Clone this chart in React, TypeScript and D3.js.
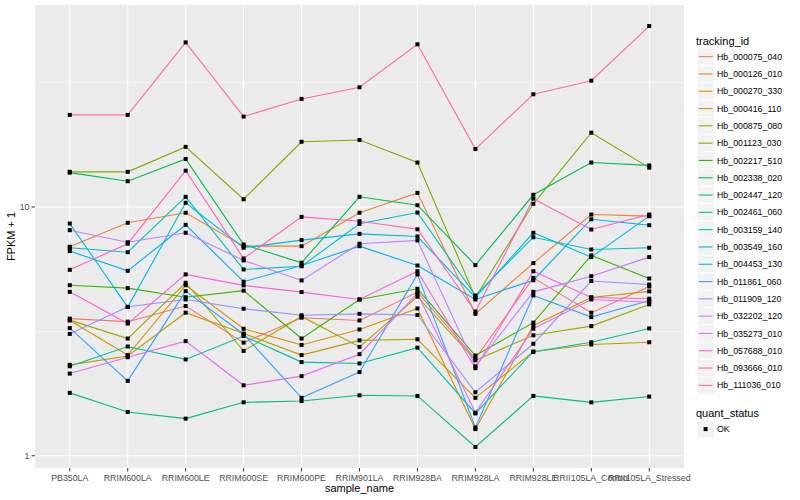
import * as d3 from "d3";

const sampleNames = [
  "PB350LA", "RRIM600LA", "RRIM600LE", "RRIM600SE", "RRIM600PE", "RRIM901LA",
  "RRIM928BA", "RRIM928LA", "RRIM928LE", "RRII105LA_Control", "RRII105LA_Stressed",
];

// FPKM + 1 per sample, one array per transcript
const hb000075_040 = [3.56, 3.46, 4.0, 2.85, 3.59, 3.5, 4.55, 2.46, 5.19, 3.76, 4.79];
const hb000126_010 = [6.92, 8.64, 9.48, 6.96, 6.96, 9.48, 11.4, 3.72, 5.95, 9.33, 9.19];
const hb000270_330 = [3.5, 2.54, 4.85, 3.24, 2.79, 3.22, 3.91, 1.28, 3.34, 4.33, 4.58];
const hb000416_110 = [2.32, 2.52, 3.76, 3.1, 2.54, 2.91, 2.94, 1.71, 2.62, 2.8, 2.86];
const hb000875_080 = [3.51, 2.96, 4.96, 2.64, 3.63, 2.74, 4.36, 2.42, 3.05, 3.32, 4.06];
const hb001123_030 = [13.85, 13.85, 17.45, 10.75, 18.3, 18.6, 15.1, 4.33, 10.3, 19.9, 14.4];
const hb002217_510 = [4.85, 4.72, 4.34, 4.61, 2.96, 4.25, 4.69, 2.53, 3.43, 6.39, 5.16];
const hb002338_020 = [13.75, 12.7, 15.6, 7.07, 5.97, 10.99, 10.17, 5.84, 11.2, 15.1, 14.7];
const hb002447_120 = [1.79, 1.5, 1.41, 1.64, 1.66, 1.75, 1.74, 1.085, 1.74, 1.64, 1.73];
const hb002461_060 = [2.29, 2.75, 2.44, 3.03, 2.38, 2.35, 2.72, 1.48, 2.62, 2.86, 3.25];
const hb003159_140 = [6.86, 6.58, 10.99, 5.61, 5.78, 8.56, 9.5, 4.41, 7.56, 6.75, 6.86];
const hb003549_160 = [8.58, 3.96, 10.4, 6.86, 7.36, 7.8, 7.61, 4.33, 7.88, 6.29, 9.19];
const hb004453_130 = [6.65, 5.54, 8.48, 5.01, 5.82, 6.96, 5.82, 4.25, 5.08, 8.93, 8.45];
const hb011861_060 = [3.26, 2.0, 4.59, 3.08, 1.71, 2.17, 5.36, 1.3, 4.41, 3.61, 4.21];
const hb011909_120 = [3.09, 3.97, 4.25, 3.9, 3.67, 3.72, 3.68, 1.8, 2.82, 5.04, 4.88];
const hb032202_120 = [8.07, 7.22, 7.88, 6.1, 5.07, 7.12, 7.34, 2.29, 4.56, 5.27, 6.29];
const hb035273_010 = [2.14, 2.49, 2.89, 1.92, 2.09, 2.56, 4.49, 1.49, 3.24, 4.25, 4.14];
const hb057688_010 = [4.56, 3.4, 5.36, 4.84, 4.55, 4.25, 5.52, 2.25, 5.52, 4.33, 4.28];
const hb093666_010 = [5.59, 7.12, 14.0, 6.21, 9.13, 8.77, 8.14, 3.8, 10.8, 8.12, 9.33];
const hb111036_010 = [23.46, 23.46, 45.9, 23.1, 27.2, 30.3, 45.1, 17.1, 28.4, 32.2, 53.4];

const trackingIds = [
  "Hb_000075_040", "Hb_000126_010", "Hb_000270_330", "Hb_000416_110", "Hb_000875_080",
  "Hb_001123_030", "Hb_002217_510", "Hb_002338_020", "Hb_002447_120", "Hb_002461_060",
  "Hb_003159_140", "Hb_003549_160", "Hb_004453_130", "Hb_011861_060", "Hb_011909_120",
  "Hb_032202_120", "Hb_035273_010", "Hb_057688_010", "Hb_093666_010", "Hb_111036_010",
];
const seriesValues = [
  hb000075_040, hb000126_010, hb000270_330, hb000416_110, hb000875_080,
  hb001123_030, hb002217_510, hb002338_020, hb002447_120, hb002461_060,
  hb003159_140, hb003549_160, hb004453_130, hb011861_060, hb011909_120,
  hb032202_120, hb035273_010, hb057688_010, hb093666_010, hb111036_010,
];
const yTicks = [1, 10];
const quantStatus = ["OK"];

// ggplot's default hue palette for 20 levels
const palette = [
  "#F8766D", "#EA8331", "#D89000", "#C09B00", "#A3A500", "#7CAE00", "#39B600",
  "#00BB4E", "#00BF7D", "#00C1A3", "#00BFC4", "#00BAE0", "#00B0F6", "#35A2FF",
  "#9590FF", "#C77CFF", "#E76BF3", "#FA62DB", "#FF62BC", "#FF6C91",
];

const W = 800;
const H = 500;
const panel = { left: 35, right: 684, top: 5, bottom: 468 };
const font = "'Liberation Sans', Arial, Helvetica, sans-serif";

export default function App() {
  const x = d3
    .scalePoint<string>()
    .domain(sampleNames)
    .range([panel.left, panel.right])
    .padding(0.6);

  const all = seriesValues.flat();
  const lo = Math.log10(d3.min(all)!);
  const hi = Math.log10(d3.max(all)!);
  const pad = (hi - lo) * 0.05;
  const y = d3
    .scaleLog()
    .domain([10 ** (lo - pad), 10 ** (hi + pad)])
    .range([panel.bottom, panel.top]);

  // minor breaks halfway between the major ones on the log scale
  const minor = [10 ** 0.5, 10 ** 1.5];

  const line = d3
    .line<number>()
    .x((_, i) => x(sampleNames[i])!)
    .y((d) => y(d));

  const keyTop = 48;
  const keyH = 17.3;

  return (
    <svg
      width={W}
      height={H}
      style={{ position: "absolute", left: 0, top: 0, background: "#fff" }}
      fontFamily={font}
    >
      <rect
        x={panel.left}
        y={panel.top}
        width={panel.right - panel.left}
        height={panel.bottom - panel.top}
        fill="#EBEBEB"
      />
      {minor.map((m) => (
        <line key={"mi" + m} x1={panel.left} x2={panel.right} y1={y(m)} y2={y(m)} stroke="#fff" strokeWidth={0.55} />
      ))}
      {yTicks.map((t) => (
        <line key={"ma" + t} x1={panel.left} x2={panel.right} y1={y(t)} y2={y(t)} stroke="#fff" strokeWidth={1.1} />
      ))}
      {sampleNames.map((s) => (
        <line key={"v" + s} x1={x(s)} x2={x(s)} y1={panel.top} y2={panel.bottom} stroke="#fff" strokeWidth={1.1} />
      ))}

      {seriesValues.map((vals, i) => (
        <path key={trackingIds[i]} d={line(vals)!} fill="none" stroke={palette[i]} strokeWidth={1.1} />
      ))}
      {seriesValues.map((vals, i) =>
        vals.map((v, j) => (
          <rect
            key={trackingIds[i] + j}
            x={x(sampleNames[j])! - 2}
            y={y(v) - 2}
            width={4}
            height={4}
            fill="#000"
          />
        ))
      )}

      {/* y axis */}
      {yTicks.map((t) => (
        <g key={"yt" + t}>
          <line x1={panel.left - 3.5} x2={panel.left} y1={y(t)} y2={y(t)} stroke="#333" strokeWidth={1} />
          <text x={panel.left - 5.5} y={y(t)} dy="0.35em" textAnchor="end" fontSize={8.8} fill="#4D4D4D">
            {t}
          </text>
        </g>
      ))}
      {/* x axis */}
      {sampleNames.map((s) => (
        <g key={"xt" + s}>
          <line x1={x(s)} x2={x(s)} y1={panel.bottom} y2={panel.bottom + 3.5} stroke="#333" strokeWidth={1} />
          <text x={x(s)} y={panel.bottom + 12.5} textAnchor="middle" fontSize={8.8} fill="#4D4D4D">
            {s}
          </text>
        </g>
      ))}
      <text x={(panel.left + panel.right) / 2} y={492} textAnchor="middle" fontSize={11} fill="#000">
        sample_name
      </text>
      <text
        transform={`translate(15,${(panel.top + panel.bottom) / 2}) rotate(-90)`}
        textAnchor="middle"
        fontSize={11}
        fill="#000"
      >
        FPKM + 1
      </text>

      {/* legend: tracking_id */}
      <text x={696} y={44.5} fontSize={11} fill="#000">
        tracking_id
      </text>
      {trackingIds.map((id, i) => {
        const ky = keyTop + i * keyH;
        return (
          <g key={"lg" + id}>
            <rect x={697} y={ky} width={17.3} height={keyH} fill="#F2F2F2" stroke="#fff" strokeWidth={1} />
            <line x1={698.7} x2={712.6} y1={ky + keyH / 2} y2={ky + keyH / 2} stroke={palette[i]} strokeWidth={1.1} />
            <text x={717} y={ky + keyH / 2} dy="0.35em" fontSize={8.8} fill="#000">
              {id}
            </text>
          </g>
        );
      })}

      {/* legend: quant_status */}
      <text x={696} y={416.5} fontSize={11} fill="#000">
        quant_status
      </text>
      {quantStatus.map((q, i) => (
        <g key={"qs" + q}>
          <rect x={697} y={420.5 + i * keyH} width={17.3} height={keyH} fill="#F2F2F2" stroke="#fff" strokeWidth={1} />
          <rect x={703.6} y={427.1 + i * keyH} width={4} height={4} fill="#000" />
          <text x={717} y={429.2 + i * keyH} dy="0.35em" fontSize={8.8} fill="#000">
            {q}
          </text>
        </g>
      ))}
    </svg>
  );
}
